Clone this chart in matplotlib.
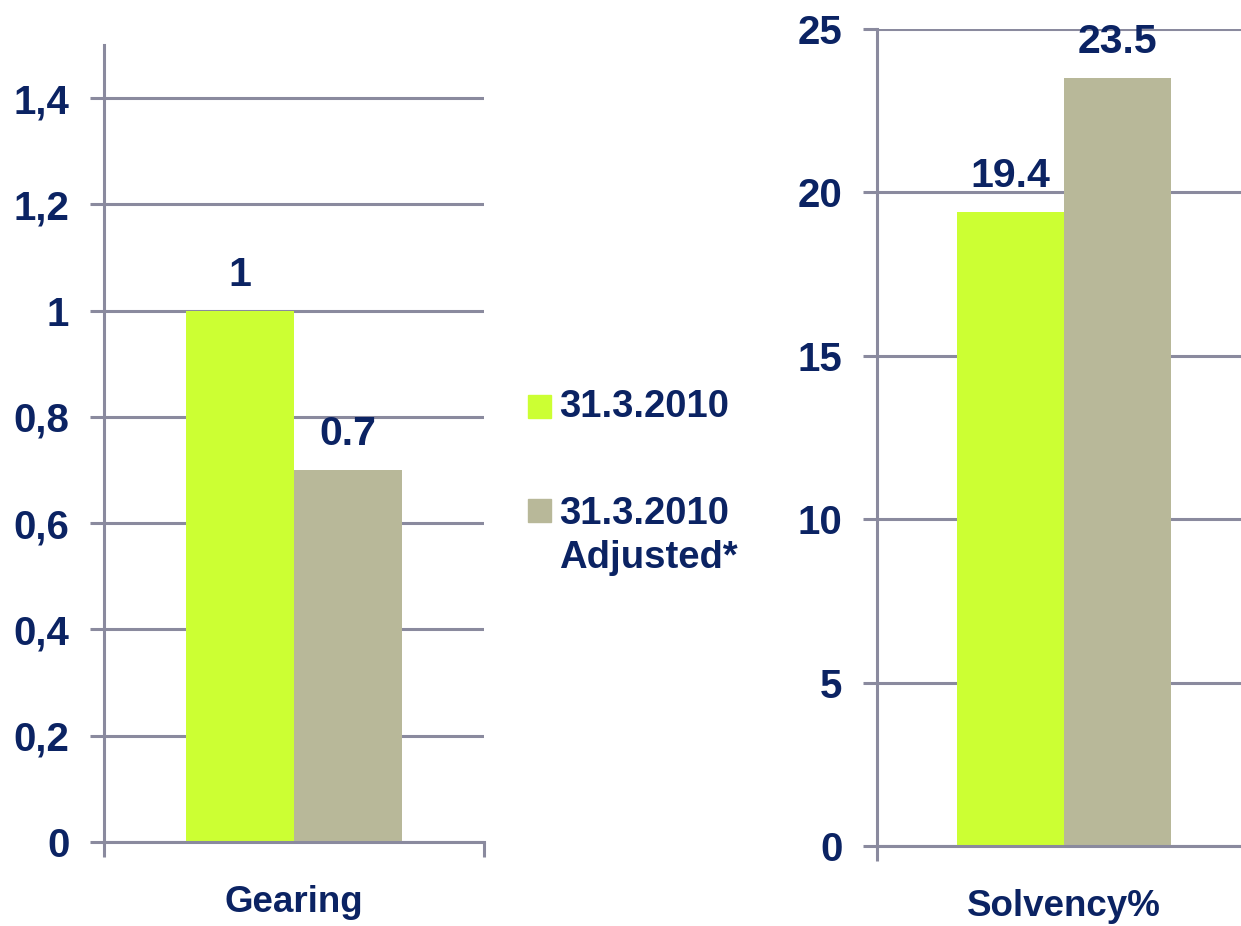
import matplotlib.pyplot as plt
from matplotlib.patches import Rectangle

# data
series = ["31.3.2010", "31.3.2010\nAdjusted*"]
gearing = [1.0, 0.7]
gearing_labels = ["1", "0.7"]
solvency = [19.4, 23.5]
solvency_labels = ["19.4", "23.5"]
gearing_ticks = [0, 0.2, 0.4, 0.6, 0.8, 1.0, 1.2, 1.4]
gearing_ticklabels = ["0", "0,2", "0,4", "0,6", "0,8", "1", "1,2", "1,4"]
solvency_ticks = [0, 5, 10, 15, 20, 25]

COLORS = ["#CCFF33", "#B8B899"]
NAVY = "#0B2363"
GRID = "#8A8A9E"

plt.rcParams["font.family"] = ["Liberation Sans", "DejaVu Sans"]
plt.rcParams["font.weight"] = "bold"

fig = plt.figure(figsize=(12.41, 9.26), dpi=100)
W, H = 1241, 926


def px_axes(x0, x1, ytop, ybot):
    return fig.add_axes([x0 / W, 1 - ybot / H, (x1 - x0) / W, (ybot - ytop) / H])


def draw_panel(ax, values, labels, name, ylim, yticks, yticklabels):
    width = 0.285
    xs = [-width / 2, width / 2]
    bars = ax.bar(xs, values, width=width, color=COLORS, zorder=2)
    for b, lab in zip(bars, labels):
        ax.annotate(lab, (b.get_x() + b.get_width() / 2, b.get_height()),
                    xytext=(0, 12), textcoords="offset points",
                    ha="center", va="bottom", fontsize=29.5,
                    fontweight="bold", color=NAVY)
    ax.set_xlim(-0.5, 0.5)
    ax.set_ylim(*ylim)
    ax.set_yticks(yticks)
    ax.set_yticklabels(yticklabels)
    ax.set_axisbelow(True)
    ax.yaxis.grid(True, color=GRID, linewidth=2.2)
    for s in ("top", "right"):
        ax.spines[s].set_visible(False)
    for s in ("left", "bottom"):
        ax.spines[s].set_color(GRID)
        ax.spines[s].set_linewidth(2.2)
    ax.tick_params(axis="y", length=10, width=2.2, color=GRID, pad=15,
                   labelsize=29, labelcolor=NAVY)
    # category label under the axis, boundary ticks at the ends
    ax.set_xticks([0])
    ax.set_xticklabels([name])
    ax.tick_params(axis="x", which="major", length=0, pad=31,
                   labelsize=26.5, labelcolor=NAVY)
    ax.set_xticks([-0.5, 0.5], minor=True)
    ax.tick_params(axis="x", which="minor", length=11, width=2.2,
                   color=GRID, direction="out")


ax1 = px_axes(104, 484, 45, 842)
draw_panel(ax1, gearing, gearing_labels, "Gearing", (0, 1.5),
           gearing_ticks, gearing_ticklabels)

ax2 = px_axes(877, 1251, 29, 846)
draw_panel(ax2, solvency, solvency_labels, "Solvency%", (0, 25),
           solvency_ticks, [str(t) for t in solvency_ticks])

# legend in the middle
legend_y = [407, 536]
for color, text, yc in zip(COLORS, series, legend_y):
    sq_y = yc if "\n" not in text else yc - 25
    fig.patches.append(Rectangle((528 / W, 1 - (sq_y + 11) / H), 23 / W, 23 / H,
                                 transform=fig.transFigure, color=color))
    fig.text(559 / W, 1 - yc / H, text, ha="left", va="center",
             fontsize=27.5, fontweight="bold", color=NAVY, linespacing=1.3)

fig.savefig("out.png", dpi=100)
